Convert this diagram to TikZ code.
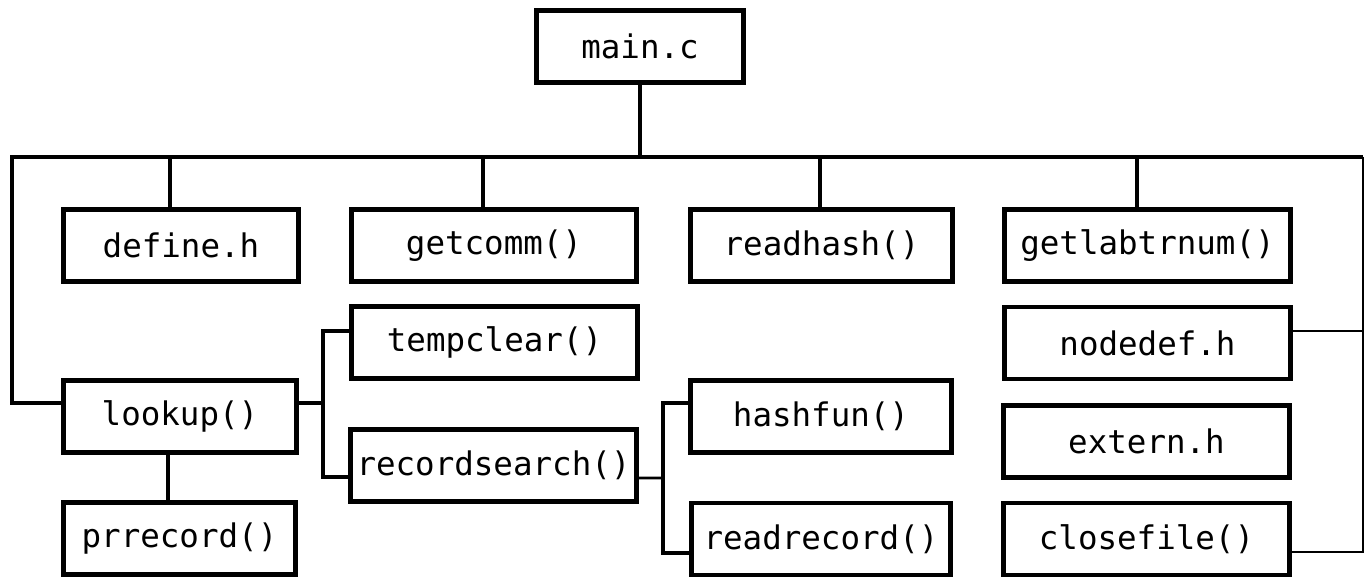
\documentclass[tikz,border=0pt]{standalone}
\usepackage{fontspec}
\setmonofont{DejaVu Sans Mono}
\usepackage{tikz}
\usetikzlibrary{calc,positioning}
\tikzset{
  fbox/.style={draw,line width=2.4pt,minimum height=1.44cm,inner sep=0pt,
    font=\ttfamily\fontsize{18.5}{22}\selectfont},
  bus/.style={line width=2.6pt},
  stem/.style={line width=2.2pt},
  thin/.style={line width=1.5pt}
}

\begin{document}
\begin{tikzpicture}[x=0.02cm,y=-0.02cm]
  \useasboundingbox (0,0) rectangle (1372,577);
  \node[fbox,minimum width=4.14cm] (main) at (640,46.5) {main.c};
  \node[fbox,minimum width=4.7cm] (define) at (181,245.5) {define.h};
  \node[fbox,minimum width=5.7cm] (getcomm) at (494,245.5) {getcomm()};
  \node[fbox,minimum width=5.24cm] (readhash) at (821.5,245.5) {readhash()};
  \node[fbox,minimum width=5.72cm] (getlab) at (1147.5,245.5) {getlabtrnum()};
  \node[fbox,minimum width=5.72cm] (tempclear) at (494.5,342.5) {tempclear()};
  \node[fbox,minimum width=5.72cm] (nodedef) at (1147.5,343) {nodedef.h};
  \node[fbox,minimum width=4.66cm] (lookup) at (180,416.5) {lookup()};
  \node[fbox,minimum width=5.22cm] (hashfun) at (821,416.5) {hashfun()};
  \node[fbox,minimum width=5.72cm] (extern) at (1146.5,441.5) {extern.h};
  \node[fbox,minimum width=5.72cm] (recsearch) at (493.5,465.5) {recordsearch()};
  \node[fbox,minimum width=4.64cm] (prrecord) at (179.5,538.5) {prrecord()};
  \node[fbox,minimum width=5.18cm] (readrecord) at (821,539) {readrecord()};
  \node[fbox,minimum width=5.72cm] (closefile) at (1146.5,539) {closefile()};
  % main bus
  \coordinate (busL) at (12,157);
  \coordinate (busR) at (1363,157);
  \draw[stem] (main.south) -- (main.south |- busL);
  \draw[bus] ([yshift=0.27cm]lookup.west) -| (busL) -- (busR);
  \coordinate (s1) at (170,157);
  \coordinate (s2) at (483,157);
  \coordinate (s3) at (820,157);
  \coordinate (s4) at (1137,157);
  \draw[stem] (s1) -- (s1 |- define.north);
  \draw[stem] (s2) -- (s2 |- getcomm.north);
  \draw[stem] (s3) -- (s3 |- readhash.north);
  \draw[stem] (s4) -- (s4 |- getlab.north);
  % right bracket
  \draw[thin] (busR) |- ([yshift=-0.26cm]closefile.east);
  \draw[thin] ([yshift=0.24cm]nodedef.east) -- ([yshift=0.24cm]nodedef.east -| busR);
  % lookup branch
  \coordinate (jA) at (323,403);
  \draw[stem] ([yshift=0.27cm]lookup.east) -- (jA);
  \draw[stem] ([yshift=0.23cm]tempclear.west) -| (jA) |- ([yshift=-0.23cm]recsearch.west);
  \draw[stem] ([xshift=-0.24cm]lookup.south) -- ([xshift=-0.24cm]lookup.south |- prrecord.north);
  % recordsearch branch
  \coordinate (jB) at (663,478);
  \draw[thin] ([yshift=-0.25cm]recsearch.east) -- (jB);
  \draw[stem] ([yshift=0.27cm]hashfun.west) -| (jB) |- ([yshift=-0.28cm]readrecord.west);
\end{tikzpicture}
\end{document}
